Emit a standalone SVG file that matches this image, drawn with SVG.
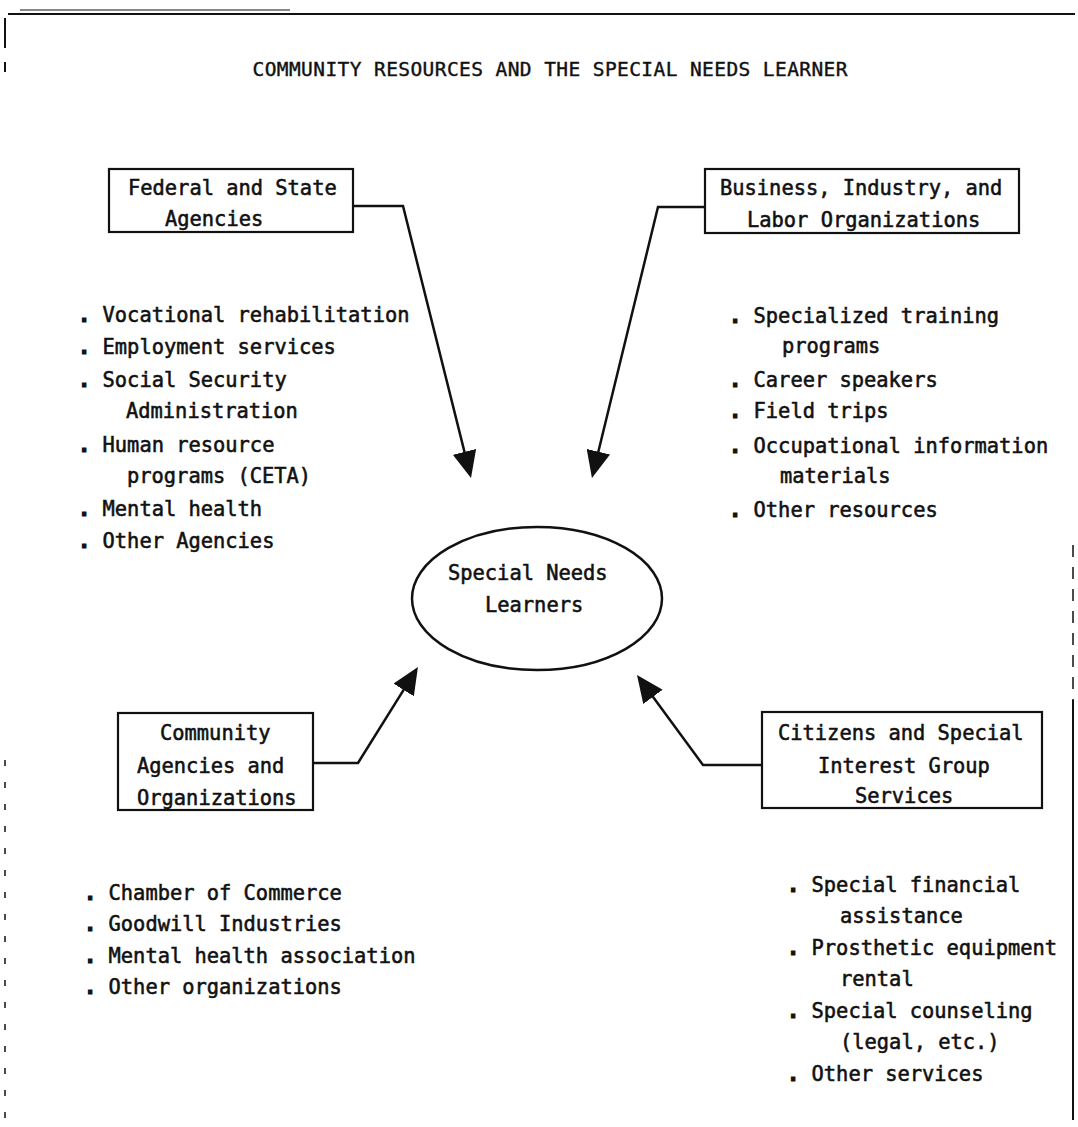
<svg xmlns="http://www.w3.org/2000/svg" width="1078" height="1127" viewBox="0 0 1078 1127">
<style>
text{font-family:"DejaVu Sans Mono","Liberation Mono",monospace;font-size:20.4px;fill:#111;stroke:#111;stroke-width:0.55}
.title{font-size:19.5px;stroke-width:0.4}
.b{font-weight:bold;stroke-width:1.2}
.box{fill:#fff;stroke:#111;stroke-width:2.2}
.conn{fill:none;stroke:#111;stroke-width:2.5}
.frame{stroke:#111;fill:none}
</style>
<defs>
<marker id="ah" viewBox="0 0 27 24" refX="15" refY="12" markerWidth="27" markerHeight="24" markerUnits="userSpaceOnUse" orient="auto">
<path d="M0,0 L27,12 L0,24 z" fill="#111"/>
</marker>
</defs>
<rect width="1078" height="1127" fill="#fff"/>
<g id="frame">
<line class="frame" x1="8" y1="14" x2="1075" y2="14" stroke-width="2"/>
<line class="frame" x1="20" y1="10" x2="290" y2="10" stroke-width="1"/>
<line class="frame" x1="5" y1="18" x2="5" y2="48" stroke-width="2"/>
<line class="frame" x1="5" y1="62" x2="5" y2="72" stroke-width="2"/>
<line class="frame" x1="5" y1="760" x2="5" y2="1120" stroke-width="1.5" stroke-dasharray="6 16"/>
<line class="frame" x1="1073" y1="545" x2="1073" y2="700" stroke-width="1.5" stroke-dasharray="12 10"/>
<line class="frame" x1="1073" y1="700" x2="1073" y2="1120" stroke-width="2"/>
</g>
<text id="title" class="title" x="550" y="76" text-anchor="middle" textLength="595">COMMUNITY RESOURCES AND THE SPECIAL NEEDS LEARNER</text>
<g id="connectors">
<path class="conn" d="M353,206 H403 L468.1,466.4" marker-end="url(#ah)"/>
<path class="conn" d="M705,207 H658 L594.8,466.3" marker-end="url(#ah)"/>
<path class="conn" d="M313,763 H358 L411.6,677.2" marker-end="url(#ah)"/>
<path class="conn" d="M762,765 H703 L644.1,684.7" marker-end="url(#ah)"/>
</g>
<g id="federal">
<rect class="box" x="109" y="169" width="244" height="63"/>
<text x="128" y="195">Federal and State</text>
<text x="165" y="226">Agencies</text>
</g>
<g id="business">
<rect class="box" x="705" y="169" width="314" height="64"/>
<text x="720" y="195">Business, Industry, and</text>
<text x="747" y="227">Labor Organizations</text>
</g>
<g id="learners">
<ellipse cx="537" cy="598.5" rx="125" ry="71.5" fill="#fff" stroke="#111" stroke-width="2.5"/>
<text x="448" y="580">Special Needs</text>
<text x="485" y="612">Learners</text>
</g>
<g id="community">
<rect class="box" x="118" y="713" width="195" height="97"/>
<text x="160" y="740">Community</text>
<text x="137" y="773">Agencies and</text>
<text x="137" y="805">Organizations</text>
</g>
<g id="citizens">
<rect class="box" x="762" y="712" width="280" height="96"/>
<text x="778" y="740">Citizens and Special</text>
<text x="818" y="773">Interest Group</text>
<text x="855" y="803">Services</text>
</g>
<g id="federal-list">
<text x="78" y="322"><tspan class="b">.</tspan> Vocational rehabilitation</text>
<text x="78" y="354"><tspan class="b">.</tspan> Employment services</text>
<text x="78" y="387"><tspan class="b">.</tspan> Social Security</text>
<text x="126" y="418">Administration</text>
<text x="78" y="452"><tspan class="b">.</tspan> Human resource</text>
<text x="127" y="483">programs (CETA)</text>
<text x="78" y="516"><tspan class="b">.</tspan> Mental health</text>
<text x="78" y="548"><tspan class="b">.</tspan> Other Agencies</text>
</g>
<g id="business-list">
<text x="729" y="323"><tspan class="b">.</tspan> Specialized training</text>
<text x="782" y="353">programs</text>
<text x="729" y="387"><tspan class="b">.</tspan> Career speakers</text>
<text x="729" y="418"><tspan class="b">.</tspan> Field trips</text>
<text x="729" y="453"><tspan class="b">.</tspan> Occupational information</text>
<text x="780" y="483">materials</text>
<text x="729" y="517"><tspan class="b">.</tspan> Other resources</text>
</g>
<g id="community-list">
<text x="84" y="900"><tspan class="b">.</tspan> Chamber of Commerce</text>
<text x="84" y="931"><tspan class="b">.</tspan> Goodwill Industries</text>
<text x="84" y="963"><tspan class="b">.</tspan> Mental health association</text>
<text x="84" y="994"><tspan class="b">.</tspan> Other organizations</text>
</g>
<g id="citizens-list">
<text x="787" y="892"><tspan class="b">.</tspan> Special financial</text>
<text x="840" y="923">assistance</text>
<text x="787" y="955"><tspan class="b">.</tspan> Prosthetic equipment</text>
<text x="840" y="986">rental</text>
<text x="787" y="1018"><tspan class="b">.</tspan> Special counseling</text>
<text x="840" y="1049">(legal, etc.)</text>
<text x="787" y="1081"><tspan class="b">.</tspan> Other services</text>
</g>
</svg>
